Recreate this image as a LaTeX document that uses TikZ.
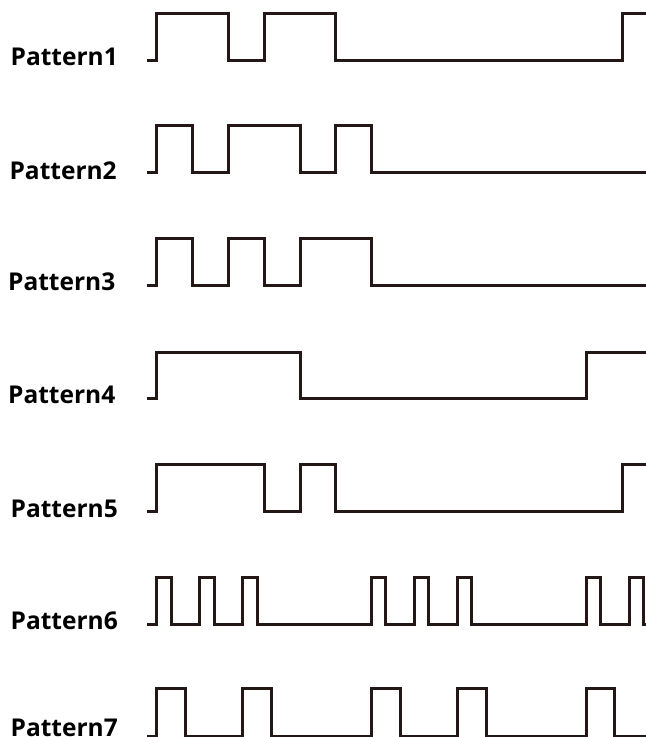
\documentclass[tikz,border=0pt]{standalone}
\usepackage{fontspec}
\setmainfont{Open Sans}
\definecolor{ink}{HTML}{231815}
\begin{document}
\begin{tikzpicture}[
    x=35.77pt, y=-1pt,
    lbl/.style={anchor=base east, font=\fontsize{24.5}{28}\selectfont\bfseries,
                text=black, inner sep=0pt},
    wave/.style={draw=ink, line width=3pt}
  ]
  \useasboundingbox (-4.389,0) rectangle (13.67,737);

  % Pattern1
  \node[lbl] (pat1) at (-1.09,65) {Pattern1};
  \draw[wave] (-0.28,60) -| (0,13) -| (2,60) -| (3,13) -| (5,60) -| (13,13) -- (13.67,13);

  % Pattern2
  \node[lbl] (pat2) at (-1.12,179) {Pattern2};
  \draw[wave] (-0.28,172) -| (0,125) -| (1,172) -| (2,125) -| (4,172) -| (5,125) -| (6,172) -- (13.67,172);

  % Pattern3
  \node[lbl] (pat3) at (-1.16,290) {Pattern3};
  \draw[wave] (-0.28,285) -| (0,238) -| (1,285) -| (2,238) -| (3,285) -| (4,238) -| (6,285) -- (13.67,285);

  % Pattern4
  \node[lbl] (pat4) at (-1.16,403) {Pattern4};
  \draw[wave] (-0.28,398) -| (0,352) -| (4,398) -| (12,352) -- (13.67,352);

  % Pattern5
  \node[lbl] (pat5) at (-1.09,517) {Pattern5};
  \draw[wave] (-0.28,511) -| (0,464) -| (3,511) -| (4,464) -| (5,511) -| (13,464) -- (13.67,464);

  % Pattern6
  \node[lbl] (pat6) at (-1.09,629) {Pattern6};
  \draw[wave] (-0.28,624) -| (0,577) -| (0.4,624) -| (1.2,577) -| (1.6,624) -| (2.4,577) -| (2.8,624)
    -| (6,577) -| (6.4,624) -| (7.2,577) -| (7.6,624) -| (8.4,577) -| (8.8,624)
    -| (12,577) -| (12.4,624) -| (13.2,577) -| (13.6,624) -- (13.67,624);

  % Pattern7
  \node[lbl] (pat7) at (-1.09,736) {Pattern7};
  \draw[wave] (-0.28,736) -| (0,688) -| (0.8,736) -| (2.4,688) -| (3.2,736)
    -| (6,688) -| (6.8,736) -| (8.4,688) -| (9.2,736) -| (12,688) -| (12.8,736) -- (13.67,736);
\end{tikzpicture}
\end{document}
